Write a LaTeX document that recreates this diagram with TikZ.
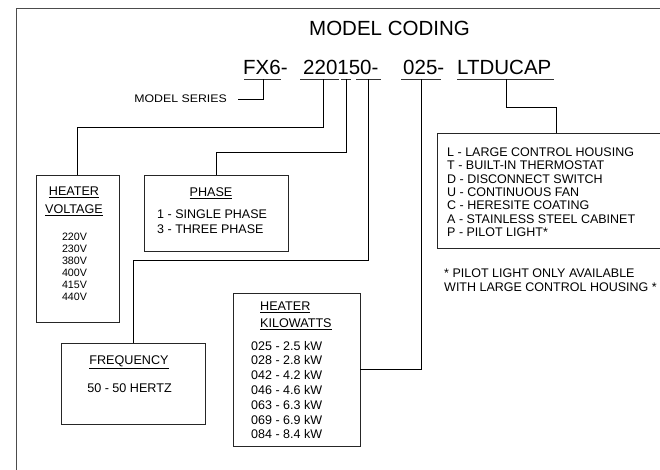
\documentclass[tikz,border=0pt]{standalone}
\usepackage{fontspec}
\setmainfont{Liberation Sans}
\begin{document}
\begin{tikzpicture}[x=1pt,y=-1pt]
\useasboundingbox (0,0) rectangle (660,470);
\clip (0,0) rectangle (660,470);
\tikzset{
 frameline/.style={draw=black!70, line width=1.8pt},
 box/.style={draw=black!85, line width=0.9pt, inner sep=0},
 conn/.style={draw=black, line width=0.9pt},
 uline/.style={draw=black!80, line width=0.9pt},
 big/.style={font=\fontsize{20.5}{24}\selectfont, inner sep=0, anchor=base west},
 lbl/.style={font=\fontsize{12.5}{14}\selectfont, inner sep=0, anchor=base west},
 hdr/.style={font=\fontsize{12.6}{14}\selectfont, inner sep=0, anchor=base},
 hdrw/.style={font=\fontsize{12.6}{14}\selectfont, inner sep=0, anchor=base west},
 smallv/.style={font=\fontsize{10.7}{12}\selectfont, inner sep=0, anchor=base},
}
% outer frame
\draw[frameline] (16.5,480) -- (16.5,8.5) -- (670,8.5);

% title and code
\node[font=\fontsize{20.5}{24}\selectfont, inner sep=0, anchor=base] (title) at (389.5,36) {MODEL CODING};
\node[big] (c1) at (243,75) {FX6-};
\node[big] (c2) at (303,75) {220150-};
\node[big] (c3) at (403,75) {025-};
\node[big] (c4) at (457,75) {LTDUCAP};

% underlines
\draw[uline] (244,79.5) -- (281,79.5);
\draw[uline] (300,79.5) -- (339,79.5);
\draw[uline] (341,79.5) -- (351,79.5);
\draw[uline] (356,79.5) -- (381,79.5);
\draw[uline] (401,79.5) -- (441,79.5);
\draw[uline] (457,79.5) -- (554,79.5);
\coordinate (u1) at (263,79.5);
\coordinate (u2) at (323,79.5);
\coordinate (u3) at (346,79.5);
\coordinate (u4) at (368,79.5);
\coordinate (u5) at (421,79.5);
\coordinate (u6) at (506,79.5);

% model series
\node[font=\fontsize{11}{13}\selectfont, inner sep=0, anchor=base east] (ms) at (227,103) {\scalebox{1.12}[1]{MODEL SERIES}};
\coordinate (msend) at (238,99);

% boxes
\node[box, minimum width=83, minimum height=147] (volt) at (77.5,248.5) {};
\node[box, minimum width=144, minimum height=76] (phase) at (216,213) {};
\node[box, minimum width=144, minimum height=81] (freq) at (133,383.5) {};
\node[box, minimum width=127, minimum height=153] (kw) at (296.5,369.5) {};
\node[box, minimum width=238, minimum height=115] (opt) at (556,190.5) {};

% connectors
\draw[conn] (u1) |- (msend);
\draw[conn] (u2) -- ++(0,47.5) -| (volt.north);
\draw[conn] (u3) -- ++(0,72.5) -| (phase.north);
\draw[conn] (u4) -- ++(0,180.5) -| (freq.north);
\draw[conn] (u5) |- (kw.east);
\draw[conn] (u6) -- ++(0,27.5) -| (opt.north);

% voltage box text
\node[hdr] (vh1) at (74,195.5) {\underline{HEATER}};
\node[hdr] (vh2) at (74,213.5) {\underline{VOLTAGE}};
\foreach \v [count=\i] in {220V,230V,380V,400V,415V,440V}
  \node[smallv] (v\i) at (74.5,228+12*\i) {\v};

% phase box text
\node[hdr] (ph) at (211,196.5) {\underline{PHASE}};
\node[lbl] (p1) at (157,218.5) {1 - SINGLE PHASE};
\node[lbl] (p3) at (157,233.5) {3 - THREE PHASE};

% frequency box text
\node[hdr] (fh) at (129,364.5) {\underline{FREQUENCY}};
\node[hdr] (f1) at (129.5,392.5) {50 - 50 HERTZ};

% kilowatts box text
\node[hdrw] (kh1) at (260,310.5) {\underline{HEATER}};
\node[hdrw] (kh2) at (260,327.5) {\underline{KILOWATTS}};
\foreach \t [count=\i] in {025 - 2.5 kW,028 - 2.8 kW,042 - 4.2 kW,046 - 4.6 kW,063 - 6.3 kW,069 - 6.9 kW,084 - 8.4 kW}
  \node[lbl] (k\i) at (251,335.2+14.8*\i) {\t};

% options box text
\foreach \t [count=\i] in {L - LARGE CONTROL HOUSING,T - BUILT-IN THERMOSTAT,D - DISCONNECT SWITCH,U - CONTINUOUS FAN,C - HERESITE COATING,A - STAINLESS STEEL CABINET,P - PILOT LIGHT*}
  \node[lbl] (o\i) at (447,143.2+13.3*\i) {\t};

% footnote
\node[lbl] (fn1) at (444,277.5) {* PILOT LIGHT ONLY AVAILABLE};
\node[lbl] (fn2) at (444,291.5) {WITH LARGE CONTROL HOUSING *};
\end{tikzpicture}
\end{document}
